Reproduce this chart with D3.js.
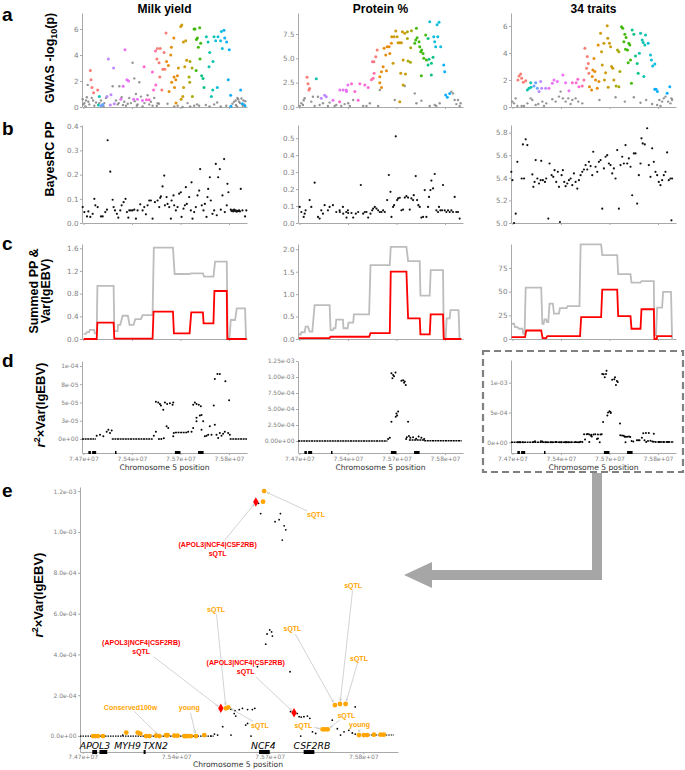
<!DOCTYPE html>
<html><head><meta charset="utf-8">
<script src="https://cdn.jsdelivr.net/npm/d3@7"></script>
<style>body{margin:0;background:#fff}svg{display:block}</style>
</head><body>
<script>
// ---------------- DATA ----------------
const traits = ["Milk yield", "Protein %", "34 traits"];
const GENOMIC_DOMAIN = [74.69, 75.88]; // Mb
const xTickValues = [74.70, 75.05, 75.40, 75.75];
const xTickLabels = ["7.47e+07", "7.54e+07", "7.57e+07", "7.58e+07"];

const hue = {r:"#F8766D",o:"#E58700",y:"#C99800",ol:"#A3A500",g2:"#39B600",t:"#00BF7D",c:"#00C1AA",s:"#00BCD8",b:"#00ABFD",b2:"#619CFF",p:"#B983FF",m:"#E76BF3",pk:"#FD61D1",rs:"#FF67A4",k:"#7a7a7a"};

// panel a: [position Mb, -log10(p), LD group]
const gwasMilk = [
[74.750,2.8,"r"],[74.755,2.1,"r"],[74.762,1.5,"r"],[74.774,1.1,"r"],[74.803,1.3,"r"],
[74.815,0.8,"c"],[74.808,0.15,"c"],[74.827,0.1,"b2"],[74.840,0.2,"b2"],
[74.880,3.7,"p"],[74.918,3.0,"p"],[74.870,0.8,"p"],[74.899,0.95,"p"],[74.923,0.25,"p"],[74.894,0.15,"p"],
[75.000,4.4,"m"],[75.014,2.1,"m"],[74.987,1.6,"m"],[75.026,2.0,"m"],[74.970,0.6,"m"],[75.062,0.6,"m"],[75.090,0.6,"m"],[75.126,0.5,"m"],
[75.138,3.1,"pk"],[75.155,0.55,"pk"],[75.174,0.55,"pk"],[75.206,1.3,"pk"],[75.222,1.7,"pk"],[75.198,2.7,"pk"],[75.220,4.3,"rs"],
[75.234,4.5,"r"],[75.254,4.5,"r"],[75.230,3.7,"r"],[75.246,3.4,"r"],[75.282,4.2,"r"],[75.296,5.7,"r"],[75.273,2.9,"r"],[75.287,2.9,"r"],[75.251,2.3,"r"],[75.266,1.3,"r"],
[75.300,3.5,"o"],[75.313,3.2,"o"],[75.330,4.0,"o"],[75.335,4.6,"o"],[75.352,5.3,"o"],[75.337,1.9,"o"],[75.354,2.3,"o"],[75.357,1.5,"o"],[75.366,2.1,"o"],[75.378,2.4,"o"],[75.318,1.2,"o"],[75.368,0.3,"o"],
[75.402,6.2,"y"],[75.410,6.3,"y"],[75.421,5.0,"y"],[75.438,5.1,"y"],[75.445,3.6,"y"],[75.431,3.1,"y"],[75.385,3.0,"y"],[75.423,1.5,"y"],[75.405,0.6,"y"],[75.417,0.8,"y"],
[75.469,3.5,"ol"],[75.486,0.8,"ol"],[75.462,2.3,"ol"],[75.467,1.9,"ol"],[75.484,3.0,"ol"],
[75.498,6.0,"g2"],[75.505,6.0,"g2"],[75.515,5.2,"g2"],[75.522,5.3,"g2"],[75.539,6.1,"g2"],[75.529,4.6,"g2"],[75.513,2.8,"g2"],[75.541,3.7,"g2"],[75.546,4.9,"g2"],
[75.553,2.4,"t"],[75.563,2.2,"t"],[75.570,1.5,"t"],
[75.587,5.4,"c"],[75.599,5.0,"c"],[75.611,4.2,"c"],[75.635,3.5,"c"],[75.606,3.1,"c"],[75.642,5.4,"c"],[75.623,0.8,"c"],[75.633,1.3,"c"],
[75.654,5.1,"s"],[75.671,5.4,"s"],[75.695,5.8,"s"],[75.714,5.9,"b"],[75.690,5.1,"s"],[75.702,4.5,"s"],[75.719,5.3,"b"],[75.733,5.0,"b"],[75.752,4.4,"b"],[75.745,2.1,"b"],[75.666,1.5,"s"],[75.762,0.9,"b"],
[75.764,0.05,"b"],[75.834,1.3,"b"],[75.866,0.1,"b"],[75.846,0.25,"b"],
[74.695,0.6,"k"],[74.707,0.3,"k"],[74.719,0.5,"k"],[74.731,1.7,"k"],[74.736,0.4,"k"],[74.743,0.2,"k"],[74.760,0.7,"k"],[74.779,0.1,"k"],[74.791,0.35,"k"],[74.827,0.5,"k"],[74.851,0.3,"k"],[74.863,0.7,"k"],[74.911,1.6,"k"],[74.935,0.5,"k"],[74.947,0.2,"k"],[74.959,1.6,"k"],[74.976,0.75,"k"],[74.995,0.4,"k"],[75.007,0.1,"k"],[75.031,0.7,"k"],[75.043,0.3,"k"],[75.055,3.4,"k"],[75.067,2.2,"k"],[75.079,1.0,"k"],[75.091,0.2,"k"],[75.103,1.9,"k"],[75.115,0.8,"k"],[75.127,0.05,"k"],[75.163,0.9,"k"],[75.187,0.4,"k"],[75.199,0.1,"k"],[75.211,0.7,"k"],[75.235,0.3,"k"],[75.307,0.25,"k"],[75.355,0.05,"k"],[75.415,0.0,"k"],[75.451,0.3,"k"],[75.499,0.1,"k"],[75.535,0.1,"k"],[75.583,0.15,"k"],[75.643,0.2,"k"],[75.691,0.05,"k"],[75.787,0.4,"k"],[75.799,0.5,"k"],[75.811,0.7,"k"],[75.816,0.6,"k"],[75.823,0.4,"k"],[75.830,0.3,"k"],[75.840,0.65,"k"],[75.854,0.5,"k"],[75.859,0.2,"k"],[75.868,0.45,"k"],[75.800,0.15,"k"],[75.808,0.05,"k"],
[74.700,0.2,"k"],[74.715,0.05,"k"],[74.725,0.75,"k"],[74.770,0.5,"k"],[74.815,0.3,"k"],[74.845,0.05,"k"],[74.955,0.3,"k"],[74.985,0.15,"k"],[75.020,0.25,"k"],[75.070,0.45,"k"],[75.085,0.1,"k"],[75.140,0.3,"k"],[75.175,0.2,"k"],[75.230,0.1,"k"],[75.245,0.25,"k"],[75.380,0.1,"k"],[75.470,0.05,"k"],[75.520,0.2,"k"],[75.610,0.05,"k"],[75.665,0.35,"k"],[75.730,0.1,"k"],[75.775,0.25,"k"],[75.850,0.1,"k"]
];
const gwasProtein = [
[74.755,3.05,"r"],[74.762,2.4,"r"],[74.774,1.9,"r"],[74.769,1.75,"r"],[74.822,2.9,"c"],
[74.858,0.9,"p"],[74.882,1.2,"p"],[74.894,1.06,"p"],[74.942,0.7,"m"],[74.990,0.55,"pk"],[75.038,1.75,"m"],[75.050,2.26,"m"],
[74.992,1.75,"m"],[75.016,1.75,"m"],[75.040,1.6,"m"],[75.076,2.4,"pk"],[75.100,1.6,"pk"],[75.124,0.7,"pk"],[75.136,2.4,"pk"],[75.172,2.26,"pk"],[75.196,2.0,"pk"],
[75.220,2.8,"rs"],[75.232,2.95,"rs"],[75.239,3.46,"rs"],[75.227,4.66,"rs"],[75.237,4.66,"r"],[75.251,5.17,"r"],[75.261,5.86,"r"],
[75.280,3.1,"o"],[75.292,3.63,"o"],[75.304,4.14,"o"],[75.311,6.03,"o"],[75.323,5.34,"o"],[75.333,6.2,"o"],[75.347,6.2,"o"],[75.352,5.5,"o"],[75.364,6.54,"o"],[75.280,2.5,"o"],[75.292,2.0,"o"],[75.328,3.73,"o"],
[75.366,7.22,"y"],[75.376,4.49,"y"],[75.383,7.22,"y"],[75.395,7.8,"y"],[75.405,7.22,"y"],[75.412,6.6,"y"],[75.424,6.6,"y"],[75.436,6.6,"y"],[75.443,7.74,"y"],[75.448,4.83,"y"],[75.460,7.57,"y"],[75.424,0.55,"y"],[75.431,3.46,"y"],[75.465,3.39,"y"],[75.448,2.26,"y"],
[75.484,4.73,"ol"],[75.501,4.59,"ol"],[75.503,6.1,"ol"],[75.479,7.05,"ol"],[75.508,7.84,"ol"],[75.479,7.74,"ol"],
[75.532,6.54,"g2"],[75.539,6.88,"g2"],[75.549,7.12,"g2"],[75.563,6.71,"g2"],[75.568,6.2,"g2"],[75.544,8.08,"g2"],[75.575,5.69,"g2"],[75.582,5.86,"g2"],[75.592,5.51,"g2"],[75.597,5.0,"g2"],[75.580,3.22,"g2"],[75.611,7.4,"g2"],[75.616,4.83,"g2"],
[75.628,4.32,"t"],[75.635,4.9,"t"],[75.652,4.49,"t"],[75.628,7.05,"t"],[75.664,5.1,"t"],[75.652,3.29,"t"],
[75.640,8.77,"s"],[75.669,7.22,"s"],[75.676,6.71,"s"],[75.683,6.2,"s"],[75.693,8.46,"s"],[75.707,8.7,"s"],[75.698,7.22,"s"],[75.719,6.2,"s"],
[75.741,4.32,"b"],[75.748,3.63,"b"],[75.755,1.23,"b"],[75.767,1.0,"b"],[75.784,1.4,"b"],
[74.714,0.38,"k"],[74.731,0.7,"k"],[74.738,0.9,"k"],[74.798,1.06,"k"],[74.834,1.06,"k"],[74.702,0.1,"k"],[74.726,0.2,"k"],[74.786,0.55,"k"],[74.810,0.1,"k"],[74.846,0.2,"k"],[74.870,0.38,"k"],[74.906,0.1,"k"],[74.918,0.45,"k"],[74.954,0.1,"k"],[74.966,0.2,"k"],[75.002,0.1,"k"],[75.026,0.3,"k"],[75.280,1.75,"k"],[75.460,2.16,"k"],[75.532,1.4,"k"],[75.580,0.65,"k"],[75.676,0.2,"k"],[75.688,0.1,"k"],[75.712,0.38,"k"],[75.796,1.58,"k"],[75.808,1.4,"k"],[75.820,0.72,"k"],[75.832,0.3,"k"],[75.844,0.72,"k"],[75.856,0.1,"k"],[75.863,0.38,"k"],[75.388,0.72,"k"],[75.160,0.1,"k"],[75.184,0.1,"k"],[75.208,0.38,"k"],[75.088,0.72,"k"],[75.064,0.1,"k"],[75.052,0.38,"k"],[75.268,0.1,"k"],[75.544,0.38,"k"],[75.640,0.1,"k"]
];
const gwas34 = [
[74.740,2.0,"r"],[74.748,2.3,"r"],[74.760,2.44,"r"],[74.767,2.12,"r"],[74.779,1.83,"r"],[74.796,1.95,"r"],
[74.808,1.26,"c"],[74.820,1.38,"c"],[74.832,1.8,"c"],[74.834,1.46,"c"],
[74.856,1.56,"b2"],[74.868,1.8,"b2"],[74.880,1.38,"b2"],[74.892,1.14,"p"],[74.904,1.88,"p"],[74.911,1.38,"p"],
[74.940,1.38,"p"],[74.964,1.38,"m"],[74.988,1.75,"m"],[75.000,2.0,"m"],[75.024,1.88,"m"],[75.064,2.37,"m"],[75.084,1.8,"m"],[75.108,1.21,"m"],[75.132,1.8,"pk"],[75.160,1.8,"pk"],[75.172,2.05,"pk"],[75.180,1.5,"pk"],
[75.204,1.56,"rs"],[75.216,2.0,"rs"],[75.223,4.35,"r"],[75.235,2.86,"r"],[75.247,3.23,"r"],[75.252,2.49,"r"],[75.240,3.73,"r"],
[75.256,1.5,"o"],[75.271,1.26,"o"],[75.276,2.25,"o"],[75.280,2.74,"o"],[75.288,3.6,"o"],[75.295,2.62,"o"],[75.300,2.0,"o"],[75.312,1.38,"o"],[75.319,4.59,"o"],[75.324,1.88,"o"],
[75.336,5.46,"y"],[75.343,4.1,"y"],[75.348,3.11,"y"],[75.360,4.72,"y"],[75.364,2.0,"y"],[75.372,2.54,"y"],[75.384,6.02,"y"],[75.388,5.09,"y"],[75.400,4.72,"y"],[75.408,4.47,"y"],[75.415,2.99,"y"],[75.424,2.86,"y"],[75.432,2.0,"y"],[75.391,1.46,"y"],
[75.448,1.56,"ol"],[75.458,4.22,"ol"],[75.468,4.1,"ol"],[75.475,2.62,"ol"],[75.468,1.5,"ol"],
[75.487,5.95,"g2"],[75.496,5.83,"g2"],[75.504,4.84,"g2"],[75.511,5.38,"g2"],[75.516,4.27,"g2"],[75.520,5.14,"g2"],[75.530,4.22,"g2"],[75.540,4.72,"g2"],[75.547,4.59,"g2"],[75.535,3.28,"g2"],[75.552,3.48,"g2"],[75.559,1.75,"g2"],
[75.564,5.7,"t"],[75.576,5.38,"t"],[75.588,3.78,"t"],[75.600,3.23,"t"],[75.607,2.49,"t"],[75.616,3.98,"c"],[75.624,5.46,"c"],[75.636,4.96,"c"],[75.643,4.77,"c"],[75.655,4.59,"c"],[75.660,5.33,"c"],[75.648,2.25,"c"],
[75.679,4.72,"s"],[75.696,3.85,"s"],[75.703,3.48,"s"],[75.712,3.04,"s"],[75.727,3.19,"s"],
[75.727,1.31,"b"],[75.736,1.31,"b"],[75.746,1.14,"b"],[75.816,1.01,"b"],[75.835,1.5,"b"],
[74.700,0.4,"k"],[74.712,0.27,"k"],[74.724,0.64,"k"],[74.736,0.07,"k"],[74.767,0.07,"k"],[74.784,0.07,"k"],[74.808,0.27,"k"],[74.832,0.64,"k"],[74.844,0.52,"k"],[74.868,0.15,"k"],[74.887,0.22,"k"],[74.916,0.4,"k"],[74.928,0.07,"k"],[74.944,0.27,"k"],[74.988,0.57,"k"],[75.012,0.4,"k"],[75.036,0.77,"k"],[75.048,1.14,"k"],[75.064,0.64,"k"],[75.084,0.4,"k"],[75.103,0.64,"k"],[75.120,0.22,"k"],[75.132,0.52,"k"],[75.156,0.64,"k"],[75.175,0.4,"k"],[75.204,0.27,"k"],[75.328,0.52,"k"],[75.444,0.72,"k"],[75.511,0.4,"k"],[75.576,0.72,"k"],[75.624,0.32,"k"],[75.665,0.52,"k"],[75.708,0.22,"k"],[75.744,0.15,"k"],[75.760,0.52,"k"],[75.768,0.07,"k"],[75.780,0.4,"k"],[75.792,0.64,"k"],[75.804,0.77,"k"],[75.823,0.4,"k"],[75.840,0.27,"k"],[75.847,0.64,"k"],[75.852,0.52,"k"]
];

// panel b: [position Mb, BayesRC posterior probability]
const bayesMilk = [[74.695,.066],[74.707,.045],[74.726,.027],[74.736,.048],[74.75,.025],[74.767,.038],[74.779,.10],[74.786,.073],[74.803,.066],[74.827,.027],[74.839,.027],[74.858,.045],[74.875,.342],[74.87,.055],[74.894,.212],[74.911,.096],[74.918,.066],[74.928,.052],[74.942,.038],[74.952,.022],[74.966,.052],[74.976,.073],[74.99,.086],[75.004,.10],[75.014,.045],[75.024,.022],[75.031,.052],[75.043,.052],[75.055,.052],[75.067,.055],[75.079,.018],[75.091,.052],[75.11,.077],[75.127,.052],[75.139,.066],[75.151,.036],[75.163,.073],[75.175,.093],[75.187,.093],[75.199,.018],[75.216,.086],[75.235,.093],[75.247,.066],[75.254,.104],[75.259,.11],[75.271,.151],[75.283,.196],[75.288,.073],[75.3,.107],[75.307,.079],[75.319,.066],[75.331,.018],[75.336,.093],[75.35,.114],[75.355,.073],[75.367,.052],[75.379,.066],[75.391,.121],[75.403,.127],[75.408,.025],[75.422,.059],[75.432,.073],[75.439,.148],[75.446,.079],[75.463,.107],[75.475,.052],[75.48,.168],[75.487,.018],[75.499,.045],[75.511,.066],[75.523,.114],[75.535,.134],[75.542,.223],[75.554,.073],[75.566,.052],[75.576,.079],[75.588,.025],[75.595,.107],[75.6,.141],[75.612,.189],[75.619,.093],[75.631,.038],[75.643,.052],[75.655,.244],[75.662,.032],[75.672,.189],[75.684,.223],[75.691,.055],[75.703,.114],[75.715,.264],[75.72,.045],[75.734,.073],[75.739,.162],[75.746,.127],[75.763,.055],[75.775,.052],[75.787,.055],[75.799,.052],[75.811,.049],[75.823,.052],[75.835,.141],[75.847,.052],[75.866,.027],[75.875,.052],[75.769,.05],[75.781,.048],[75.793,.05],[75.805,.047],[75.817,.05],[75.829,.048]];
const bayesProtein = [[74.702,.095],[74.714,.065],[74.731,.036],[74.738,.055],[74.745,.075],[74.774,.135],[74.786,.095],[74.81,.238],[74.834,.036],[74.846,.026],[74.858,.075],[74.87,.055],[74.882,.105],[74.906,.075],[74.918,.095],[74.942,.105],[74.966,.065],[74.99,.075],[75.014,.095],[75.038,.065],[75.05,.075],[74.992,.065],[75.016,.055],[75.04,.032],[75.052,.059],[75.076,.059],[75.088,.032],[75.107,.055],[75.124,.065],[75.143,.224],[75.16,.055],[75.172,.065],[75.184,.065],[75.196,.032],[75.213,.055],[75.225,.075],[75.232,.085],[75.244,.095],[75.256,.085],[75.268,.075],[75.28,.065],[75.292,.065],[75.304,.075],[75.316,.065],[75.333,.135],[75.345,.283],[75.357,.184],[75.364,.036],[75.376,.095],[75.383,.105],[75.395,.511],[75.405,.135],[75.412,.145],[75.424,.149],[75.436,.075],[75.448,.079],[75.46,.15],[75.472,.158],[75.484,.15],[75.496,.079],[75.508,.145],[75.52,.135],[75.525,.164],[75.539,.277],[75.549,.135],[75.558,.105],[75.568,.095],[75.58,.032],[75.592,.036],[75.604,.194],[75.616,.036],[75.628,.095],[75.635,.154],[75.645,.194],[75.652,.25],[75.664,.204],[75.676,.289],[75.688,.075],[75.7,.065],[75.707,.095],[75.717,.075],[75.729,.075],[75.736,.224],[75.748,.075],[75.76,.065],[75.772,.075],[75.784,.065],[75.796,.075],[75.808,.065],[75.82,.154],[75.832,.065],[75.844,.065],[75.856,.026]];
const bayes34 = [[74.692,5.453],[74.7,5.379],[74.712,5.0],[74.724,5.083],[74.736,5.542],[74.767,5.394],[74.776,5.696],[74.784,5.394],[74.796,5.741],[74.808,5.69],[74.844,5.43],[74.851,5.32],[74.86,5.364],[74.868,5.557],[74.88,5.394],[74.892,5.35],[74.904,5.379],[74.908,5.551],[74.92,5.379],[74.935,5.364],[74.944,5.394],[74.959,5.039],[74.968,5.527],[74.983,5.424],[74.995,5.409],[75.004,5.468],[75.016,5.364],[75.028,5.453],[75.036,5.32],[75.043,5.009],[75.055,5.424],[75.064,5.468],[75.074,5.364],[75.084,5.326],[75.096,5.35],[75.108,5.379],[75.12,5.394],[75.132,5.335],[75.144,5.439],[75.156,5.364],[75.168,5.305],[75.18,5.379],[75.192,5.424],[75.204,5.453],[75.216,5.474],[75.228,5.513],[75.24,5.474],[75.252,5.542],[75.264,5.504],[75.276,5.424],[75.283,5.631],[75.3,5.498],[75.312,5.453],[75.324,5.542],[75.336,5.557],[75.348,5.127],[75.36,5.483],[75.372,5.587],[75.384,5.601],[75.396,5.527],[75.408,5.513],[75.42,5.439],[75.432,5.483],[75.444,5.394],[75.456,5.646],[75.468,5.127],[75.48,5.513],[75.492,5.587],[75.504,5.527],[75.516,5.69],[75.528,5.527],[75.54,5.572],[75.552,5.498],[75.564,5.246],[75.576,5.616],[75.588,5.616],[75.6,5.172],[75.612,5.424],[75.624,5.527],[75.631,5.75],[75.64,5.705],[75.655,5.696],[75.672,5.839],[75.684,5.513],[75.696,5.409],[75.708,5.661],[75.72,5.542],[75.732,5.453],[75.744,5.424],[75.756,5.364],[75.768,5.335],[75.78,5.379],[75.792,5.424],[75.804,5.453],[75.816,5.625],[75.828,5.379],[75.84,5.394],[75.852,5.394],[75.847,5.024]];

// panel c: step segments [start Mb, end Mb, value]
const ppMilk = [[74.702,74.717,0.09],[74.724,74.741,0.12],[74.746,74.777,0.16],[74.782,74.796,0.10],[74.801,74.918,0.935],[74.923,74.947,0.14],[74.95,74.966,0.25],[74.983,75.021,0.41],[75.033,75.062,0.25],[75.074,75.115,0.35],[75.127,75.199,0.42],[75.208,75.346,1.61],[75.358,75.466,1.146],[75.475,75.562,1.158],[75.571,75.638,1.10],[75.65,75.734,1.364],[75.741,75.753,0.0],[75.763,75.794,0.335],[75.806,75.866,0.541],[75.873,75.878,0.0]];
const varMilk = [[74.702,74.796,0.0],[74.801,74.918,0.288],[74.923,75.199,0.008],[75.206,75.346,0.482],[75.353,75.466,0.10],[75.478,75.562,0.47],[75.567,75.638,0.276],[75.645,75.734,0.846],[75.738,75.878,0.0]];
const ppProtein = [[74.697,74.709,0.10],[74.714,74.738,0.15],[74.745,74.762,0.275],[74.774,74.793,0.163],[74.81,74.918,0.757],[74.925,74.942,0.20],[74.947,74.96,0.24],[74.966,75.014,0.43],[75.018,75.048,0.24],[75.054,75.088,0.364],[75.093,75.203,0.549],[75.213,75.352,1.648],[75.359,75.472,2.056],[75.484,75.568,1.737],[75.573,75.64,0.965],[75.647,75.736,1.537],[75.741,75.755,0.03],[75.762,75.784,0.46],[75.79,75.848,0.646],[75.855,75.868,0.0]];
const varProtein = [[74.697,74.918,0.02],[74.925,75.203,0.05],[75.213,75.352,0.13],[75.359,75.472,1.50],[75.484,75.568,0.46],[75.573,75.64,0.105],[75.647,75.736,0.549],[75.741,75.868,0.0]];
const pp34 = [[74.695,74.712,16.1],[74.719,74.736,12.5],[74.748,74.772,10.8],[74.779,74.788,5.4],[74.796,74.908,54.3],[74.916,74.925,16],[74.932,74.944,20.7],[74.949,74.959,17.8],[74.968,74.992,37.3],[75.0,75.036,26.7],[75.043,75.091,32.7],[75.098,75.184,34.8],[75.192,75.34,99.9],[75.348,75.456,88.6],[75.463,75.552,68.4],[75.559,75.624,59.6],[75.631,75.72,61],[75.724,75.736,4],[75.744,75.78,33.1],[75.787,75.844,49.7],[75.852,75.858,0]];
const var34 = [[74.695,74.791,2],[74.8,74.908,9],[74.918,74.944,1],[74.952,75.188,3],[75.196,75.34,23.2],[75.348,75.456,52.2],[75.463,75.552,24.2],[75.559,75.624,10.8],[75.631,75.72,31.4],[75.724,75.741,0],[75.744,75.852,3]];

// panel d: r2 x Var(lgEBV). Milk in 1e-5 units, Protein and 34 traits in 1e-4 units
const ldMilk = [[74.796,0.45],[74.820,0.59],[74.844,0.36],[74.868,1.0],[74.880,1.27],[74.892,0.82],[74.904,1.18],[75.208,0.45],[75.223,1.0],[75.223,5.1],[75.240,5.0],[75.252,4.8],[75.259,4.6],[75.276,4.0],[75.288,5.0],[75.304,4.8],[75.324,4.9],[75.343,4.7],[75.348,5.0],[75.300,1.73],[75.312,1.5],[75.348,0.36],[75.352,0.82],[75.245,0],[75.262,0],[75.280,0.1],[75.492,4.7],[75.504,5.0],[75.516,4.8],[75.532,4.7],[75.547,4.5],[75.516,2.9],[75.540,3.2],[75.552,3.3],[75.456,1.0],[75.480,1.0],[75.492,1.5],[75.516,2.42],[75.552,1.27],[75.564,2.42],[75.576,0.36],[75.588,0.45],[75.600,0.59],[75.612,1.73],[75.624,0.59],[75.648,1.96],[75.660,0.59],[75.672,0.13],[75.684,0.82],[75.696,0.45],[75.708,0.73],[75.720,1.0],[75.744,0.82],[75.756,0.59],[75.640,4.6],[75.648,8.2],[75.667,8.9],[75.684,8.9],[75.724,7.9],[75.751,5.3]];
const ldRunsMilk = [[74.69,74.79,0],[74.905,75.20,0],[75.36,75.45,0.9],[75.755,75.88,0]];
const ldProtein = [[75.340,0.3],[75.352,0.5],[75.364,3.0],[75.371,9.8],[75.364,10.6],[75.376,10.3],[75.383,10.1],[75.393,10.7],[75.395,3.8],[75.400,4.3],[75.405,4.0],[75.412,4.6],[75.436,9.4],[75.448,9.5],[75.455,9.1],[75.460,9.3],[75.467,8.75],[75.484,3.0],[75.490,0.8],[75.500,0.5],[75.520,0.6],[75.542,0.36],[75.560,0.7],[75.580,0.5],[75.600,0.3],[75.470,0.3],[75.475,0.6]];
const ldRunsProtein = [[74.69,75.335,0],[75.49,75.60,0.15],[75.60,75.87,0.05]];
const ld34 = [[75.358,11.4],[75.366,10.9],[75.420,10.5],[75.435,10.6],[75.440,10.9],[75.454,10.3],[75.460,10.1],[75.447,9.6],[75.385,4.5],[75.390,5.0],[75.400,5.2],[75.407,5.1],[75.410,4.9],[75.354,3.4],[75.476,3.15],[75.255,1.31],[75.270,1.25],[75.286,1.3],[75.298,1.36],[75.317,1.3],[75.335,1.3],[75.344,1.36],[75.267,1.1],[75.273,0.98],[75.310,0.54],[75.317,0.62],[75.224,0.46],[75.255,0.05],[75.330,0.0],[75.205,0.05],[75.193,0.1],[75.478,1.2],[75.503,1.1],[75.510,0.95],[75.518,0.93],[75.528,0.95],[75.541,0.98],[75.550,0.87],[75.560,0.21],[75.572,0.13],[75.516,0.0],[75.634,0.78],[75.720,1.43],[75.653,0.36],[75.665,0.05],[75.678,0.21],[75.696,0.28],[75.709,0.15],[75.720,0.1],[74.850,0.05],[75.180,0.0]];
const ldRuns34 = [[74.69,75.19,0],[75.75,75.865,0.05]];

// panel e: annotated SNPs of the 34-trait analysis (1e-4 units); label position in data units
const ann34 = [
{x:75.379,v:12.0,type:"o",label:["sQTL"],lx:75.573,lv:10.83},
{x:75.348,v:11.46,type:"r",label:["(APOL3|NCF4|CSF2RB)","sQTL"],lx:75.205,lv:9.17},
{x:75.375,v:11.48,type:"o"},
{x:75.217,v:1.36,type:"r",label:["(APOL3|NCF4|CSF2RB)","sQTL"],lx:74.919,lv:4.35},
{x:75.236,v:1.36,type:"o",label:["sQTL"],lx:75.199,lv:6.21},
{x:75.245,v:1.41,type:"o",label:["sQTL"],lx:75.363,lv:0.54},
{x:75.491,v:1.14,type:"r",label:["(APOL3|NCF4|CSF2RB)","sQTL"],lx:75.31,lv:3.37},
{x:75.598,v:0.33,type:"o",label:["sQTL"],lx:75.526,lv:0.54},
{x:75.607,v:0.33,type:"o"},
{x:75.617,v:0.33,type:"o",label:["sQTL"],lx:75.687,lv:1.03},
{x:75.644,v:1.52,type:"o",label:["sQTL"],lx:75.485,lv:5.25},
{x:75.663,v:1.57,type:"o",label:["sQTL"],lx:75.712,lv:7.37},
{x:75.684,v:1.57,type:"o",label:["sQTL"],lx:75.734,lv:3.82},
{x:75.734,v:0.05,type:"o",label:["young"],lx:75.736,lv:0.55},
{x:74.987,v:0.0,type:"o",label:["Conserved100w"],lx:74.879,lv:1.39},
{x:75.124,v:0.0,type:"o",label:["young"],lx:75.099,lv:1.39},
{x:74.739,v:0,type:"o"},{x:74.748,v:0,type:"o"},{x:74.757,v:0,type:"o"},{x:74.776,v:0,type:"o"},
{x:74.863,v:0.17,type:"o"},{x:74.906,v:0.17,type:"o"},{x:74.916,v:0.12,type:"o"},{x:74.937,v:0,type:"o"},
{x:74.950,v:0,type:"o"},{x:74.975,v:0.02,type:"o"},{x:75.012,v:0.04,type:"o"},{x:75.018,v:0.04,type:"o"},
{x:75.043,v:0.02,type:"o"},{x:75.055,v:0.02,type:"o"},{x:75.080,v:0,type:"o"},{x:75.086,v:0,type:"o"},
{x:75.093,v:0,type:"o"},{x:75.105,v:0,type:"o"},{x:75.155,v:0.05,type:"o"},{x:75.752,v:0.05,type:"o"},
{x:75.765,v:0.05,type:"o"},{x:75.790,v:0.07,type:"o"},{x:75.815,v:0.07,type:"o"},{x:75.827,v:0.07,type:"o"}
];

const genes = [
{name:"APOL3",start:74.736,end:74.754,labelAt:74.746},
{name:"MYH9",start:74.763,end:74.792,labelAt:74.868},
{name:"TXN2",start:74.928,end:74.933,labelAt:74.972},
{name:"NCF4",start:75.36,end:75.40,labelAt:75.376},
{name:"CSF2RB",start:75.527,end:75.567,labelAt:75.558}
];

// axis tick values and labels per column
const gwasY = [{max:7.23,t:[0,2,4,6],l:["0","2","4","6"]},{max:9.66,t:[0,2.5,5,7.5],l:["0.0","2.5","5.0","7.5"]},{max:6.96,t:[0,2,4,6],l:["0","2","4","6"]}];
const bayesY = [{min:0,max:0.405,t:[0,.1,.2,.3,.4],l:["0.0","0.1","0.2","0.3","0.4"]},{min:0,max:0.578,t:[0,.1,.2,.3,.4,.5],l:["0.0","0.1","0.2","0.3","0.4","0.5"]},{min:5,max:5.868,t:[5,5.2,5.4,5.6,5.8],l:["5.0","5.2","5.4","5.6","5.8"]}];
const ppY = [{max:1.675,t:[0,.4,.8,1.2,1.6],l:["0.0","0.4","0.8","1.2","1.6"]},{max:2.118,t:[0,.5,1,1.5,2],l:["0.0","0.5","1.0","1.5","2.0"]},{max:100.3,t:[0,25,50,75],l:["0","25","50","75"]}];
const ldY = [{min:-1.918,max:10.68,t:[0,2.5,5,7.5,10],l:["0e+00","3e-05","5e-05","8e-05","1e-04"]},{min:-1.875,max:12.5,t:[0,2.5,5,7.5,10,12.5],l:["0.00e+00","2.50e-04","5.00e-04","7.50e-04","1.00e-03","1.25e-03"]},{min:-1.795,max:13.81,t:[0,5,10],l:["0e+00","5e-04","1e-03"]}];
const eY = {min:-0.78,max:12.2,t:[0,2,4,6,8,10,12],l:["0.0e+00","2.0e-04","4.0e-04","6.0e-04","8.0e-04","1.0e-03","1.2e-03"]};

// ---------------- DRAWING ----------------
const svg = d3.select("body").append("svg").attr("width",685).attr("height",770);
const COLS=[82,298,511], CW=165;
const AX="#a9a9a9", TXT="#7f7f7f";
const xScale = i => d3.scaleLinear().domain(GENOMIC_DOMAIN).range([COLS[i],COLS[i]+CW]);

function axes(xs, ys, yt, fs, showX){
  const g = svg.append("g");
  const ya = d3.axisLeft(ys).tickValues(yt.t).tickFormat((d,i)=>yt.l[i]).tickSize(2).tickSizeOuter(0).tickPadding(1.5);
  const gy = g.append("g").attr("transform",`translate(${xs.range()[0]},0)`).call(ya);
  const xa = d3.axisBottom(xs).tickValues(xTickValues).tickFormat((d,i)=>showX?xTickLabels[i]:"").tickSize(2).tickSizeOuter(0).tickPadding(1.5);
  const gx = g.append("g").attr("transform",`translate(0,${ys.range()[0]})`).call(xa);
  [gy,gx].forEach(a=>{
    a.select(".domain").attr("stroke",AX).attr("stroke-width",1);
    a.selectAll(".tick line").attr("stroke",AX);
    a.selectAll("text").attr("fill",TXT).style("font-family","DejaVu Sans").style("font-size",fs+"px");
  });
  return g;
}

const gwasData=[gwasMilk,gwasProtein,gwas34], bayesData=[bayesMilk,bayesProtein,bayes34];
const ppData=[ppMilk,ppProtein,pp34], varData=[varMilk,varProtein,var34];
const ldData=[ldMilk,ldProtein,ld34], ldRuns=[ldRunsMilk,ldRunsProtein,ldRuns34];

for(let i=0;i<3;i++){
  const xs = xScale(i);
  svg.append("text").attr("x",COLS[i]+CW/2).attr("y",12.5).attr("text-anchor","middle")
    .style("font-family","Liberation Sans, Arial").style("font-weight","bold").style("font-size","12px").text(traits[i]);
  // a
  const ya = d3.scaleLinear().domain([0,gwasY[i].max]).range([107,13]);
  axes(xs, ya, gwasY[i], 7.2, false);
  const pa = gwasData[i].slice().sort((p,q)=>(p[2]==="k"?0:1)-(q[2]==="k"?0:1));
  svg.append("g").selectAll("circle").data(pa).join("circle")
    .attr("cx",d=>xs(d[0])).attr("cy",d=>ya(d[1])).attr("r",d=>d[2]==="k"?1.2:1.5)
    .attr("fill",d=>hue[d[2]]).attr("fill-opacity",d=>d[2]==="k"?0.8:0.95);
  // b
  const yb = d3.scaleLinear().domain([bayesY[i].min,bayesY[i].max]).range([223,125]);
  axes(xs, yb, bayesY[i], 7.2, false);
  svg.append("g").selectAll("circle").data(bayesData[i]).join("circle")
    .attr("cx",d=>xs(d[0])).attr("cy",d=>yb(d[1])).attr("r",1.1).attr("fill","#111");
  // c
  const yc = d3.scaleLinear().domain([0,ppY[i].max]).range([339,244]);
  axes(xs, yc, ppY[i], 7.2, false);
  const stepLine = segs => d3.line()(segs.flatMap(s=>[[xs(s[0]),yc(s[2])],[xs(s[1]),yc(s[2])]]));
  svg.append("path").attr("d",stepLine(ppData[i])).attr("fill","none").attr("stroke","#bdbdbd").attr("stroke-width",1.8);
  svg.append("path").attr("d",stepLine(varData[i])).attr("fill","none").attr("stroke","#ff0000").attr("stroke-width",1.8);
  // d
  const dTop = i===2?360:361;
  const yd = d3.scaleLinear().domain([ldY[i].min,ldY[i].max]).range([453,dTop]);
  axes(xs, yd, ldY[i], 6, true);
  svg.append("g").selectAll("line").data(ldRuns[i]).join("line")
    .attr("x1",d=>xs(d[0])).attr("x2",d=>xs(d[1])).attr("y1",d=>yd(d[2])).attr("y2",d=>yd(d[2]))
    .attr("stroke","#000").attr("stroke-width",1.5).attr("stroke-dasharray","2,0.6");
  const pts = i===2 ? ld34.concat(ann34.map(a=>[a.x,a.v])) : ldData[i];
  svg.append("g").selectAll("circle").data(pts).join("circle")
    .attr("cx",d=>xs(d[0])).attr("cy",d=>yd(d[1])).attr("r",1.0).attr("fill","#000");
  svg.append("g").selectAll("rect").data(genes).join("rect")
    .attr("x",d=>xs(d.start)).attr("width",d=>Math.max(1.5,xs(d.end)-xs(d.start)))
    .attr("y",451).attr("height",3).attr("fill","#000");
  svg.append("text").attr("x",COLS[i]+CW/2).attr("y",470).attr("text-anchor","middle")
    .style("font-family","DejaVu Sans").style("font-size","7.6px").attr("fill","#333").text("Chromosome 5 position");
}

// panel letters
[["a",21],["b",135],["c",250],["d",367],["e",497]].forEach(([t,y])=>{
  svg.append("text").attr("x",2).attr("y",y).text(t)
    .style("font-family","Liberation Sans, Arial").style("font-weight","bold").style("font-size","19px");
});

// row titles
function vTitle(x,y,parts,size){
  const t = svg.append("text").attr("transform",`translate(${x},${y}) rotate(-90)`).attr("text-anchor","middle")
    .attr("y",size*0.35).style("font-family","Liberation Sans, Arial").style("font-weight","bold").style("font-size",size+"px");
  parts.forEach(p=>{ const s=t.append("tspan").text(p.t); if(p.dy) s.attr("dy",p.dy); if(p.fs) s.style("font-size",p.fs+"px"); if(p.it) s.style("font-style","italic"); });
}
vTitle(50,58,[{t:"GWAS -log"},{t:"10",dy:3,fs:9},{t:"(p)",dy:-3}],12.5);
vTitle(50,159,[{t:"BayesRC PP"}],12.5);
vTitle(34,291,[{t:"Summed PP &"}],12.5);
vTitle(46,291,[{t:"Var(lgEBV)"}],12.5);
vTitle(40,405,[{t:"r",it:true},{t:"2",dy:-5,fs:9},{t:"×Var(lgEBV)",dy:5}],13);
vTitle(38,595,[{t:"r",it:true},{t:"2",dy:-5,fs:9},{t:"×Var(lgEBV)",dy:5}],13);

// dashed box and connector arrow
svg.append("rect").attr("x",483).attr("y",351).attr("width",200).attr("height",121)
  .attr("fill","none").attr("stroke","#808080").attr("stroke-width",2.2).attr("stroke-dasharray","7,4");
svg.append("path").attr("d","M592,473 L602,473 L602,580 L432,580 L432,588 L404,575 L432,562 L432,570 L592,570 Z").attr("fill","#a6a6a6");

// ---------------- PANEL e ----------------
const ex = d3.scaleLinear().domain(GENOMIC_DOMAIN).range([80,398]);
const ey = d3.scaleLinear().domain([eY.min,eY.max]).range([752,487]);
{
  const g = svg.append("g");
  const ya = d3.axisLeft(ey).tickValues(eY.t).tickFormat((d,i)=>eY.l[i]).tickSize(2).tickSizeOuter(0).tickPadding(1.5);
  const gy = g.append("g").attr("transform","translate(80,0)").call(ya);
  const xa = d3.axisBottom(ex).tickValues(xTickValues).tickFormat((d,i)=>xTickLabels[i]).tickSize(2).tickSizeOuter(0).tickPadding(1);
  const gx = g.append("g").attr("transform","translate(0,752)").call(xa);
  [gy,gx].forEach(a=>{ a.select(".domain").attr("stroke",AX); a.selectAll(".tick line").attr("stroke",AX);
    a.selectAll("text").attr("fill",TXT).style("font-family","DejaVu Sans").style("font-size","6px"); });
}
svg.append("text").attr("x",238).attr("y",767).attr("text-anchor","middle")
  .style("font-family","DejaVu Sans").style("font-size","7.6px").attr("fill","#333").text("Chromosome 5 position");

svg.append("g").selectAll("line").data(ldRuns34).join("line")
  .attr("x1",d=>ex(d[0])).attr("x2",d=>ex(d[1])).attr("y1",d=>ey(d[2])).attr("y2",d=>ey(d[2]))
  .attr("stroke","#000").attr("stroke-width",1.1).attr("stroke-dasharray","1.5,1");
svg.append("g").selectAll("circle").data(ld34).join("circle")
  .attr("cx",d=>ex(d[0])).attr("cy",d=>ey(d[1])).attr("r",0.9).attr("fill","#000");

// gene models and names
svg.append("g").selectAll("rect").data(genes).join("rect")
  .attr("x",d=>ex(d.start)).attr("width",d=>Math.max(2,ex(d.end)-ex(d.start)))
  .attr("y",750).attr("height",4).attr("fill","#000");
svg.append("g").selectAll("text").data(genes).join("text")
  .attr("x",d=>ex(d.labelAt)).attr("y",748.5).attr("text-anchor","middle")
  .style("font-family","DejaVu Sans").style("font-style","italic").style("font-size","9.3px").attr("fill","#000").text(d=>d.name);

// arrow marker
svg.append("defs").append("marker").attr("id","arr").attr("viewBox","0 0 6 6").attr("refX",6).attr("refY",3)
  .attr("markerWidth",5).attr("markerHeight",5).attr("orient","auto")
  .append("path").attr("d","M0,0.5 L6,3 L0,5.5").attr("fill","none").attr("stroke","#b5b5b5").attr("stroke-width",0.8);

const leaderG = svg.append("g"), pointG = svg.append("g"), labelG = svg.append("g");
ann34.forEach(a=>{
  const px=ex(a.x), py=ey(a.v);
  if(a.type==="r"){
    pointG.append("path").attr("d",d3.symbol(d3.symbolDiamond,26)()).attr("transform",`translate(${px},${py})`).attr("fill","#ff0000");
  } else {
    pointG.append("circle").attr("cx",px).attr("cy",py).attr("r",2.4).attr("fill","#FFA500");
  }
  if(!a.label) return;
  const lx=ex(a.lx), ly=ey(a.lv);
  const col = a.type==="r"?"#ff0000":"#FFA500";
  const n=a.label.length;
  const t = labelG.append("text").attr("text-anchor","middle")
    .style("font-family","Liberation Sans, Arial").style("font-weight","bold").style("font-size","7px").attr("fill",col);
  a.label.forEach((s,k)=>t.append("tspan").attr("x",lx).attr("y",ly+2.5+(k-(n-1)/2)*9).text(s));
  const b=t.node().getBBox();
  const bx={x:b.x-1,y:b.y-0.5,width:b.width+2,height:b.height+1};
  const dx=px-lx, dy=py-ly; let tt=1;
  if(dx!==0){ tt=Math.min(tt,((dx>0?bx.x+bx.width:bx.x)-lx)/dx); }
  if(dy!==0){ tt=Math.min(tt,((dy>0?bx.y+bx.height:bx.y)-ly)/dy); }
  const sx=lx+dx*tt, sy=ly+dy*tt;
  const L=Math.hypot(px-sx,py-sy), pad=3;
  if(L>pad+1){
    const endx=px-(px-sx)/L*pad, endy=py-(py-sy)/L*pad;
    leaderG.append("line").attr("x1",sx).attr("y1",sy).attr("x2",endx).attr("y2",endy)
      .attr("stroke","#b5b5b5").attr("stroke-width",0.6).attr("marker-end","url(#arr)");
  }
});
</script>
</body></html>
